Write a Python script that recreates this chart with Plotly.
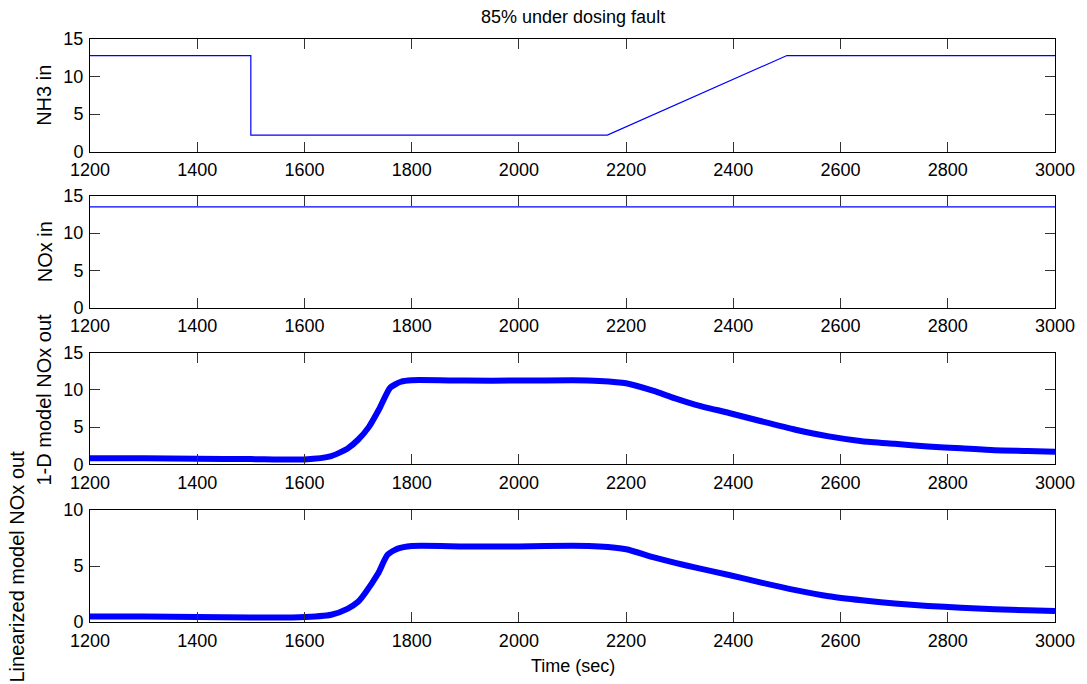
import plotly.graph_objects as go

# ---- data ----
t_nh3 = [1200, 1500, 1500, 2165, 2500, 3000]
nh3_in = [12.8, 12.8, 2.2, 2.2, 12.8, 12.8]

t_nox_in = [1200, 3000]
nox_in = [13.5, 13.5]

t_out1 = [1200, 1300, 1400, 1500, 1600, 1650, 1680, 1700, 1720, 1740, 1760, 1780,
          1800, 1900, 2000, 2100, 2150, 2200, 2250, 2290, 2330, 2392, 2454, 2516,
          2578, 2640, 2701, 2763, 2825, 2887, 2949, 3000]
nox_out_1d = [0.8, 0.8, 0.75, 0.7, 0.65, 1.1, 2.1, 3.3, 5.0, 7.5, 10.3, 11.1,
              11.3, 11.25, 11.25, 11.3, 11.2, 10.9, 9.9, 8.9, 8.0, 6.9, 5.75, 4.65,
              3.75, 3.1, 2.75, 2.4, 2.15, 1.9, 1.8, 1.7]

t_out2 = [1200, 1300, 1400, 1500, 1590, 1650, 1681, 1700, 1712, 1737, 1755, 1774,
          1800, 1900, 2000, 2100, 2150, 2200, 2250, 2290, 2330, 2392, 2454, 2516,
          2578, 2640, 2701, 2763, 2825, 2887, 2949, 3000]
nox_out_lin = [0.5, 0.5, 0.45, 0.4, 0.42, 0.65, 1.2, 1.8, 2.5, 4.3, 6.0, 6.55,
               6.78, 6.75, 6.75, 6.8, 6.75, 6.5, 5.8, 5.3, 4.85, 4.2, 3.5, 2.85,
               2.3, 1.94, 1.65, 1.43, 1.28, 1.14, 1.05, 0.98]

x_ticks = [1200, 1400, 1600, 1800, 2000, 2200, 2400, 2600, 2800, 3000]
y_labels = ["NH3 in", "NOx in", "1-D model NOx out", "Linearized model NOx out"]
title = "85% under dosing fault"
x_title = "Time (sec)"

BLUE = "#0000FF"
FONT = "Liberation Sans, Arial, sans-serif"

fig = go.Figure()
fig.add_trace(go.Scatter(x=t_nh3, y=nh3_in, mode="lines", line=dict(color=BLUE, width=1.2),
                         xaxis="x", yaxis="y", showlegend=False))
fig.add_trace(go.Scatter(x=t_nox_in, y=nox_in, mode="lines", line=dict(color=BLUE, width=1.2),
                         xaxis="x2", yaxis="y2", showlegend=False))
fig.add_trace(go.Scatter(x=t_out1, y=nox_out_1d, mode="lines",
                         line=dict(color=BLUE, width=6, shape="spline", smoothing=0.6),
                         xaxis="x3", yaxis="y3", showlegend=False))
fig.add_trace(go.Scatter(x=t_out2, y=nox_out_lin, mode="lines",
                         line=dict(color=BLUE, width=6, shape="spline", smoothing=0.6),
                         xaxis="x4", yaxis="y4", showlegend=False))

domains = [[0.8067, 1.0], [0.5391, 0.7312], [0.2705, 0.4619], [0.0, 0.1921]]
yranges = [[0, 15], [0, 15], [0, 15], [0, 10]]

common = dict(showline=True, linecolor="black", linewidth=1, mirror="allticks",
              ticks="inside", ticklen=10, tickcolor="#333", tickwidth=1,
              showgrid=False, zeroline=False,
              tickfont=dict(family=FONT, size=18, color="black"))

# the page body adds an 8px offset, so the figure is 8px smaller on each side
layout = dict(
    width=1079, height=676,
    margin=dict(l=82, r=26, t=31, b=62),
    paper_bgcolor="white", plot_bgcolor="white",
    font=dict(family=FONT, color="black"),
    showlegend=False,
)
for i in range(4):
    sx = "" if i == 0 else str(i + 1)
    layout["xaxis" + sx] = dict(common, domain=[0, 1], range=[1200, 3000],
                                tickvals=x_ticks, anchor="y" + sx, ticklabelstandoff=2)
    layout["yaxis" + sx] = dict(common, domain=domains[i], range=yranges[i], dtick=5,
                                anchor="x" + sx, ticklabelstandoff=2)
fig.update_layout(**layout)

annotations = [
    dict(text=title, x=0.5, y=1.0, xref="paper", yref="paper", xanchor="center",
         yanchor="bottom", yshift=10, showarrow=False, font=dict(family=FONT, size=18)),
    dict(text=x_title, x=0.5, y=0.0, xref="paper", yref="paper", xanchor="center",
         yanchor="top", yshift=-32, showarrow=False, font=dict(family=FONT, size=18)),
]
xshifts = [-45.5, -45.5, -45.5, -72.5]
yshifts = [0, 0, 8.5, -1]
for i in range(4):
    yc = (domains[i][0] + domains[i][1]) / 2
    annotations.append(dict(text=y_labels[i], x=0, y=yc, xref="paper", yref="paper",
                            xanchor="center", yanchor="middle", textangle=-90,
                            xshift=xshifts[i], yshift=yshifts[i], showarrow=False,
                            font=dict(family=FONT, size=20)))
fig.update_layout(annotations=annotations)

fig.write_html("out.html")
